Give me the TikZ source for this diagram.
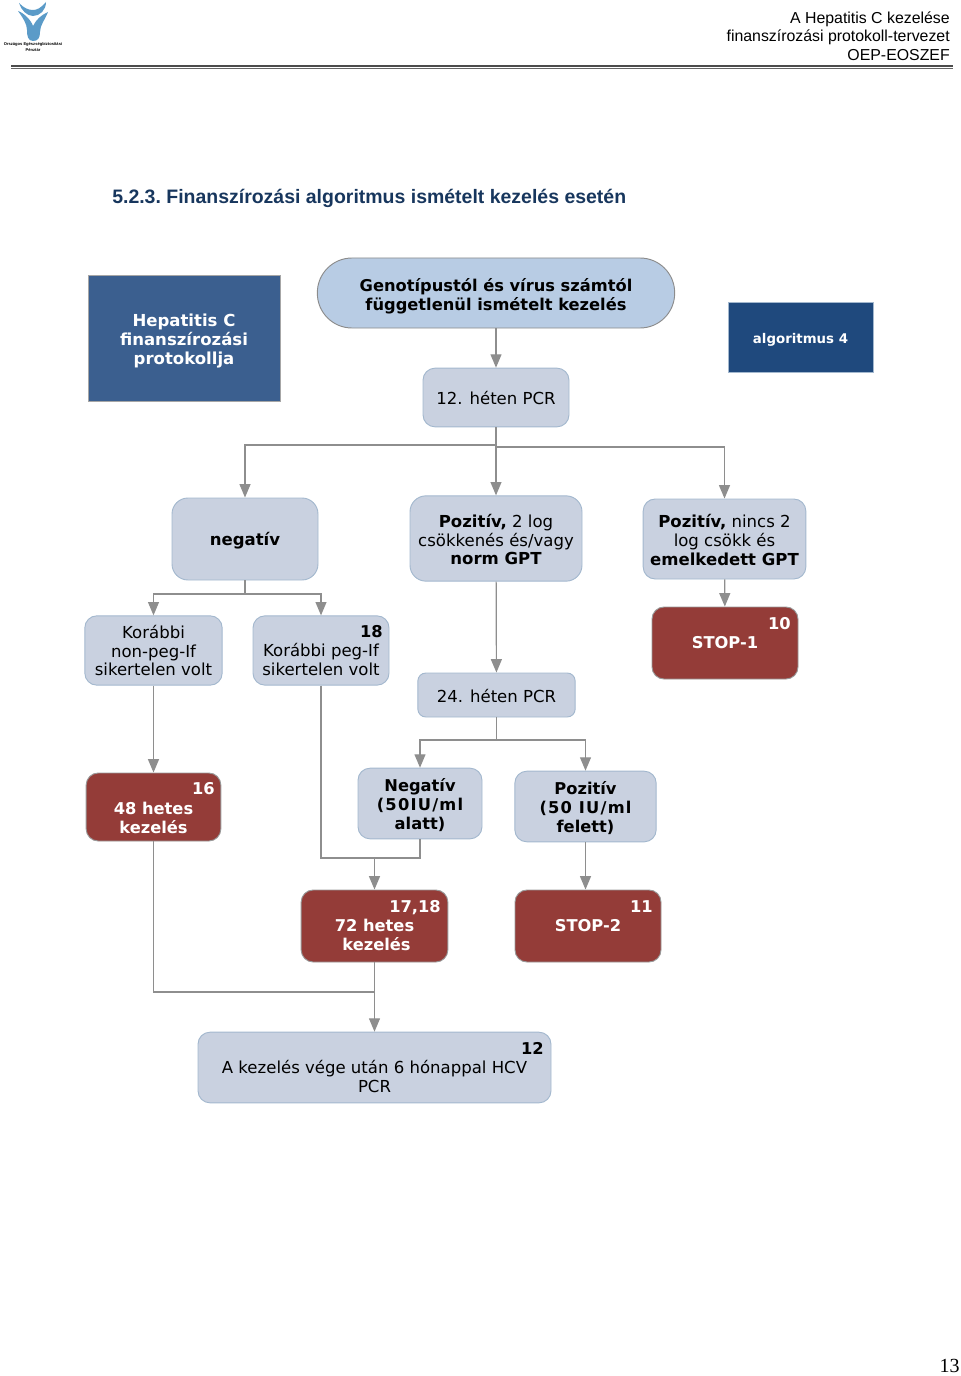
\documentclass[tikz,border=0pt]{standalone}
\usepackage{fontspec}
\setmainfont{DejaVu Sans}
\newfontfamily\headfont{Liberation Sans}
\newfontfamily\pagefont{Liberation Serif}
\usetikzlibrary{arrows.meta}

\definecolor{boxfill}{HTML}{C9D1E0}
\definecolor{boxline}{HTML}{A3B8CE}
\definecolor{genofill}{HTML}{B8CCE4}
\definecolor{headfill}{HTML}{3B5F8F}
\definecolor{algfill}{HTML}{1F497D}
\definecolor{stopfill}{HTML}{943C38}
\definecolor{connline}{HTML}{8E8E8E}
\definecolor{logoblue}{HTML}{5B9BC8}
\definecolor{titleblue}{HTML}{17365D}

\newcommand{\spreadtext}[1]{{\addfontfeature{LetterSpace=7.5}#1}}

\tikzset{
    basebox/.style={draw=boxline, line width=0.7pt, align=center, inner sep=0pt,
        font=\fontsize{12.4}{14.2}\selectfont},
    greybox/.style={basebox, fill=boxfill, rounded corners=9pt},
    stopbox/.style={basebox, fill=stopfill, draw=black!40, text=white, rounded corners=9pt,
        font=\fontsize{12.2}{14.2}\selectfont\bfseries},
    numlabel/.style={anchor=north east, inner sep=0pt, font=\fontsize{12.2}{14.2}\selectfont\bfseries},
    conn/.style={draw=connline, line width=0.9pt},
    arr/.style={conn, -{Triangle[length=10pt,width=8.2pt,fill=connline]}},
    headline/.style={anchor=east, inner sep=0pt, font=\headfont\fontsize{11.9}{14}\selectfont}
}

\begin{document}
\begin{tikzpicture}[x=0.75pt,y=-0.75pt]
    \useasboundingbox (0,0) rectangle (960,1376);

    \fill[logoblue] (33,10) .. controls (37,10) and (41,8) .. (46,2) .. controls (46,10) and (40,16) .. (33,16) .. controls (27,16) and (21,10) .. (19,3) .. controls (24,8) and (28,10) .. (33,10) -- cycle;
    \fill[logoblue] (33,41) .. controls (28,41) and (27,36) .. (27,30) .. controls (27,24) and (23,18) .. (18,11) .. controls (24,13) and (31,20) .. (33,26) .. controls (36,20) and (41,15) .. (48,12) .. controls (45,20) and (40,25) .. (40,32) .. controls (40,38) and (38,41) .. (33,41) -- cycle;
    \node[inner sep=0pt, align=center, font=\headfont\bfseries\fontsize{3.05}{4.6}\selectfont] (logotext) at (33,47) {Országos Egészségbiztosítási\\Pénztár};

    \node[headline] (headone) at (950,19.5) {A Hepatitis C kezelése};
    \node[headline] (headtwo) at (950,37.5) {finanszírozási protokoll-tervezet};
    \node[headline] (headthree) at (950,55.5) {OEP-EOSZEF};
    \draw[black!70, line width=1.1pt] (11,66) -- (953,66);
    \draw[black!60, line width=0.4pt] (11,68) -- (953,68);

    \node[anchor=west, inner sep=0pt, text=titleblue, font=\headfont\bfseries\fontsize{14.6}{18}\selectfont] (title) at (112,198.5) {\frenchspacing 5.2.3. Finanszírozási algoritmus ismételt kezelés esetén};

    \node[basebox, fill=headfill, draw=black!35, text=white, font=\fontsize{12.4}{14.2}\selectfont\bfseries, minimum width=144pt, minimum height=94.5pt] (hepc) at (184,338) {\rule{0pt}{14pt}Hepatitis C\\finanszírozási\\protokollja};
    \node[basebox, fill=genofill, draw=black!45, rounded corners=26pt, font=\fontsize{12.2}{14.2}\selectfont\bfseries, minimum width=268pt, minimum height=52.5pt] (geno) at (496,293) {\rule{0pt}{14pt}Genotípustól és vírus számtól\\függetlenül ismételt kezelés};
    \node[basebox, fill=algfill, draw=boxline, text=white, font=\fontsize{10}{12}\selectfont\bfseries, minimum width=108.75pt, minimum height=53pt] (algo) at (800.5,337.5) {\rule{0pt}{10.5pt}algoritmus 4};

    \node[greybox, minimum width=109.5pt, minimum height=44pt] (pcrtwelve) at (496,397.5) {\rule{0pt}{11pt}12. héten PCR};
    \node[greybox, rounded corners=12pt, minimum width=109.5pt, minimum height=61.5pt] (neg) at (245,539) {\rule{0pt}{12.6pt}\textbf{negatív}};
    \node[greybox, rounded corners=12pt, minimum width=129pt, minimum height=64pt] (pozone) at (496,538.5) {\rule{0pt}{11.5pt}\textbf{Pozitív,} 2 log\\csökkenés és/vagy\\\textbf{norm GPT}};
    \node[greybox, minimum width=122pt, minimum height=60pt] (poztwo) at (724.5,539) {\rule{0pt}{11.5pt}\textbf{Pozitív,} nincs 2\\log csökk és\\\textbf{emelkedett GPT}};

    \node[greybox, minimum width=103pt, minimum height=52pt] (korone) at (153.5,650.5) {Korábbi\\non-peg-If\\sikertelen volt};
    \node[greybox, minimum width=102pt, minimum height=52pt] (kortwo) at (321,650.5) {\phantom{18}\\Korábbi peg-If\\sikertelen volt};
    \node[numlabel] (kortwonum) at (383,625.5) {18};
    \node[stopbox, minimum width=109.5pt, minimum height=54pt] (stopone) at (725,643) {STOP-1};
    \node[numlabel, text=white] (stoponenum) at (791,617.5) {10};
    \node[greybox, rounded corners=6pt, minimum width=118pt, minimum height=33pt] (pcrtf) at (496.5,695) {\rule{0pt}{11pt}24. héten PCR};

    \node[stopbox, minimum width=101pt, minimum height=51pt] (fortyeight) at (153.5,807) {\rule{0pt}{11.5pt}\\48 hetes\\kezelés};
    \node[numlabel, text=white] (fortyeightnum) at (215,782.5) {16};
    \node[greybox, font=\fontsize{12.2}{14.2}\selectfont\bfseries, minimum width=93pt, minimum height=53pt] (negat) at (420,803.5) {\rule{0pt}{12.5pt}Negatív\\\spreadtext{(50IU/ml}\\alatt)};
    \node[greybox, font=\fontsize{12.2}{14.2}\selectfont\bfseries, minimum width=106pt, minimum height=53pt] (pozit) at (585.5,806.5) {\rule{0pt}{12.5pt}Pozitív\\\spreadtext{(50 IU/ml}\\felett)};

    \node[stopbox, minimum width=110pt, minimum height=54pt] (seventytwo) at (374.5,926) {\phantom{17}\\72 hetes\\\hspace{3pt}kezelés};
    \node[numlabel, text=white] (seventytwonum) at (441,900.5) {17,18};
    \node[stopbox, minimum width=109.5pt, minimum height=54pt] (stoptwo) at (588,926) {STOP-2};
    \node[numlabel, text=white] (stoptwonum) at (653,900.5) {11};

    \node[greybox, minimum width=264.75pt, minimum height=53pt] (finish) at (374.5,1067.5) {\phantom{12}\\A kezelés vége után 6 hónappal HCV\\PCR};
    \node[numlabel] (finishnum) at (544,1042) {12};

    \coordinate (splitleft) at (496,445);
    \coordinate (splitright) at (496,447);
    \coordinate (splitneg) at (245,594);
    \coordinate (splitlate) at (496.5,740);
    \coordinate (joinmid) at (374.5,858);
    \coordinate (joinlow) at (374.5,992);

    \draw[arr] (geno) -- (pcrtwelve);
    \draw[conn] (pcrtwelve) -- (splitright);
    \draw[arr] (splitleft) -| (neg);
    \draw[arr] (pcrtwelve) -- (pozone);
    \draw[arr] (splitright) -| (poztwo);

    \draw[conn] (neg) -- (splitneg);
    \draw[arr] (splitneg) -| (korone);
    \draw[arr] (splitneg) -| (kortwo);
    \draw[arr] (pozone) -- (pcrtf);
    \draw[arr] (poztwo) -- (stopone);

    \draw[conn] (pcrtf) -- (splitlate);
    \draw[arr] (splitlate) -| (negat);
    \draw[arr] (splitlate) -| (pozit);
    \draw[arr] (korone) -- (fortyeight);

    \draw[conn] (kortwo) |- (joinmid);
    \draw[conn] (negat) |- (joinmid);
    \draw[arr] (joinmid) -- (seventytwo);
    \draw[arr] (pozit.south) -- (pozit.south |- stoptwo.north);

    \draw[conn] (fortyeight) |- (joinlow);
    \draw[arr] (seventytwo) -- (finish);

    \node[anchor=east, inner sep=0pt, font=\pagefont\fontsize{15}{18}\selectfont] (pagenum) at (960,1366) {13};
\end{tikzpicture}
\end{document}
